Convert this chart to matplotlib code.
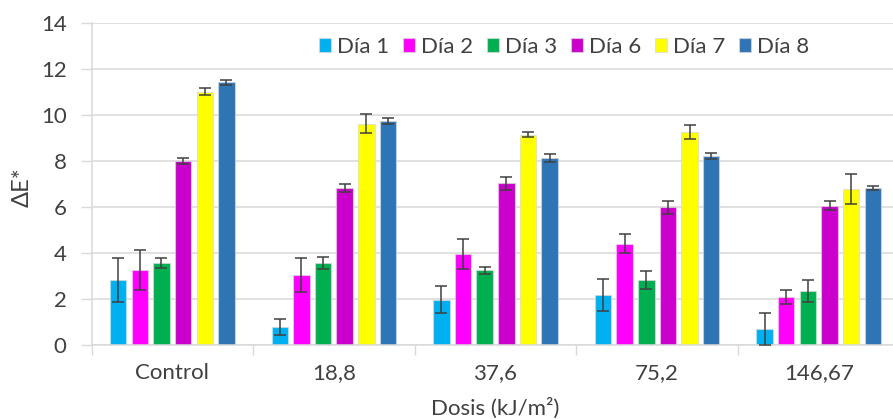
import matplotlib
matplotlib.use("Agg")
import matplotlib.pyplot as plt
import numpy as np

# Dose groups and measurement days
categories = ["Control", "18,8", "37,6", "75,2", "146,67"]
series_names = ["Día 1", "Día 2", "Día 3", "Día 6", "Día 7", "Día 8"]

# Mean colour difference (ΔE*) per day, one value per dose group
dia1 = [2.83, 0.78, 1.97, 2.16, 0.71]
dia2 = [3.25, 3.04, 3.97, 4.41, 2.09]
dia3 = [3.57, 3.57, 3.24, 2.83, 2.35]
dia6 = [7.99, 6.81, 7.04, 5.98, 6.06]
dia7 = [11.02, 9.63, 9.15, 9.27, 6.78]
dia8 = [11.42, 9.75, 8.12, 8.21, 6.83]

# Standard deviations
err1 = [0.97, 0.36, 0.60, 0.69, 0.70]
err2 = [0.87, 0.74, 0.66, 0.43, 0.29]
err3 = [0.22, 0.25, 0.17, 0.38, 0.48]
err6 = [0.13, 0.17, 0.28, 0.27, 0.18]
err7 = [0.15, 0.40, 0.10, 0.31, 0.65]
err8 = [0.12, 0.13, 0.17, 0.12, 0.10]

values = [dia1, dia2, dia3, dia6, dia7, dia8]
errors = [err1, err2, err3, err6, err7, err8]
colors = ["#00B0F0", "#FF00FF", "#00B050", "#CC00CC", "#FFFF00", "#2E75B6"]

plt.rcParams["font.family"] = ["Lato", "DejaVu Sans"]
text_color = "#404040"
grid_color = "#D9D9D9"
fs = 16

W, H = 893, 419
fig = plt.figure(figsize=(W / 100, H / 100), dpi=100)
left, right, top, bottom = 91.5, 899.5, 23, 345
ax = fig.add_axes([left / W, 1 - bottom / H, (right - left) / W, (bottom - top) / H])

n_groups = len(categories)
n_series = len(series_names)
step = 0.134
width = 0.102
centers = np.arange(n_groups) + 0.5

for j, (vals, errs, col, name) in enumerate(zip(values, errors, colors, series_names)):
    xs = centers + (j - (n_series - 1) / 2) * step
    ax.bar(xs, vals, width=width, color=col, label=name,
           edgecolor=(0.85, 0.85, 0.85, 0.7), linewidth=0.8, zorder=2)
    ax.errorbar(xs, vals, yerr=errs, fmt="none", ecolor="#404040",
                elinewidth=1.1, capsize=4.5, capthick=1.1, zorder=3)

ax.set_xlim(0, n_groups)
ax.set_ylim(0, 14)
ax.set_yticks(np.arange(0, 15, 2))
ax.yaxis.grid(True, color=grid_color, linewidth=1.1, zorder=0)
ax.set_axisbelow(True)

# Group boundaries as tick marks, category names centred between them
ax.set_xticks(np.arange(0, n_groups + 1))
ax.set_xticklabels([])
ax.set_xticks(centers, minor=True)
ax.set_xticklabels(categories, minor=True)
ax.tick_params(axis="x", which="major", length=7, color=grid_color, width=1)
ax.tick_params(axis="x", which="minor", length=0, pad=13, labelsize=fs, labelcolor=text_color)
ax.tick_params(axis="y", length=8, color=grid_color, width=1, pad=10,
               labelsize=fs, labelcolor=text_color)

for side in ["top", "right"]:
    ax.spines[side].set_visible(False)
for side in ["left", "bottom"]:
    ax.spines[side].set_color(grid_color)
    ax.spines[side].set_linewidth(1.1)

ax.set_ylabel("ΔE*", fontsize=fs + 1, color=text_color)
ax.yaxis.set_label_coords((22 - left) / (right - left), (bottom - 187) / (bottom - top))
ax.yaxis.label.set_va("center")
ax.set_xlabel("Dosis (kJ/m²)", fontsize=fs, color=text_color)
ax.xaxis.set_label_coords(0.5, -(408 - bottom) / (bottom - top))
ax.xaxis.label.set_va("center")

leg = ax.legend(ncol=6, frameon=False, loc="center left",
                bbox_to_anchor=((319 - left) / (right - left), (bottom - 47) / (bottom - top)),
                fontsize=fs, handlelength=0.55, handleheight=0.55,
                handletextpad=0.26, columnspacing=0.62, borderaxespad=0, borderpad=0)
for t in leg.get_texts():
    t.set_color(text_color)

fig.savefig("out.png", dpi=100)
